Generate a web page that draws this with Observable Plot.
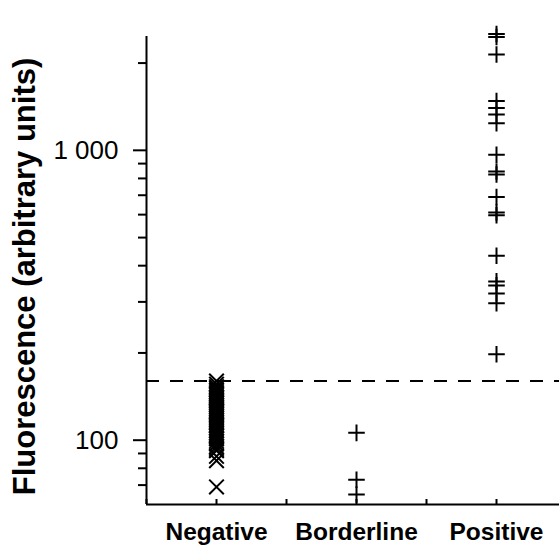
<!DOCTYPE html>
<html>
<head>
<meta charset="utf-8">
<script src="https://cdn.jsdelivr.net/npm/d3@7"></script>
<script src="https://cdn.jsdelivr.net/npm/@observablehq/plot@0.6"></script>
<style>
  html, body { margin: 0; padding: 0; background: #fff; }
  #chart { width: 559px; height: 551px; overflow: hidden; }
</style>
</head>
<body>
<div id="chart"></div>
<script>
const categories = ["Negative", "Borderline", "Positive"];
const negativeValues = [160, 156, 153, 151, 149, 147, 145, 143, 141, 140, 138, 136, 134, 132, 130, 128, 126, 125, 123, 121, 119, 117, 115, 113, 112, 110, 108, 106, 104, 103, 101, 99, 97, 95, 93, 92, 88, 85, 69];
const borderlineValues = [106, 73, 65];
const positiveValues = [2520, 2460, 2140, 1480, 1400, 1330, 1240, 965, 845, 825, 690, 610, 597, 433, 353, 342, 321, 297, 198];
const threshold = 160;
const yDomain = [60, 2470];
const xDomain = [-0.5, 2.45];
const majorTicks = [100, 1000];
const minorTicks = [70, 80, 90, 200, 300, 400, 500, 600, 700, 800, 900, 2000];
const xTicks = [-0.5, 0, 0.5, 1, 1.5, 2];
const yLabel = "Fluorescence (arbitrary units)";

const negRows = negativeValues.map(v => ({idx: 0, value: v}));
const plusRows = [
  ...borderlineValues.map(v => ({idx: 1, value: v})),
  ...positiveValues.map(v => ({idx: 2, value: v}))
];

const chart = Plot.plot({
  width: 559,
  height: 551,
  marginLeft: 146,
  marginRight: 0,
  marginTop: 36,
  marginBottom: 47,
  style: {fontFamily: "Arial, 'Liberation Sans', sans-serif", color: "#000", background: "#fff"},
  x: {type: "linear", domain: xDomain},
  y: {type: "log", domain: yDomain},
  marks: [
    Plot.ruleY([threshold], {stroke: "#000", strokeWidth: 2, strokeDasharray: "13,11"}),
    Plot.axisY({ticks: majorTicks, tickSize: 13, tickPadding: 15, strokeWidth: 2, fontSize: 26,
      tickFormat: d => d === 1000 ? "1 000" : String(d), label: null}),
    Plot.axisY({ticks: minorTicks, tickSize: 8, strokeWidth: 2, tickFormat: () => "", label: null}),
    Plot.axisX({ticks: xTicks, tickSize: 0, tickPadding: 18, fontSize: 24.5, fontWeight: "bold",
      tickFormat: d => Number.isInteger(d) ? categories[d] : "", label: null}),
    Plot.axisX({ticks: xTicks, tickSize: -5, strokeWidth: 2, tickFormat: () => "", label: null}),
    Plot.ruleX([xDomain[0]], {stroke: "#000", strokeWidth: 2}),
    Plot.ruleY([yDomain[0]], {stroke: "#000", strokeWidth: 2}),
    Plot.text([yLabel], {frameAnchor: "left", textAnchor: "middle", rotate: -90, dx: -121, dy: 6, fontSize: 31, fontWeight: "bold", fill: "#000"}),
    Plot.dot(negRows, {x: "idx", y: "value", symbol: "times", r: 6.7, stroke: "#000", strokeWidth: 2}),
    Plot.dot(plusRows, {x: "idx", y: "value", symbol: "plus", r: 5.4, stroke: "#000", strokeWidth: 2})
  ]
});
document.getElementById("chart").appendChild(chart);
</script>
</body>
</html>
